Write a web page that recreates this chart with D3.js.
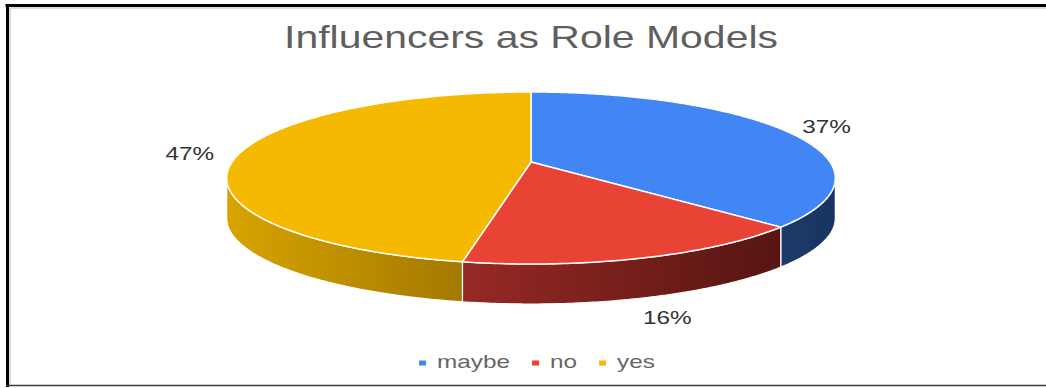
<!DOCTYPE html>
<html>
<head>
<meta charset="utf-8">
<script src="https://cdn.jsdelivr.net/npm/d3@7/dist/d3.min.js"></script>
<style>
  html, body { margin: 0; padding: 0; background: #fff; }
  svg { display: block; }
  text { font-family: Arial, "Liberation Sans", sans-serif; }
</style>
</head>
<body>
<svg id="chart" width="1046" height="388"></svg>
<script>
// Survey answers and their shares (percent)
const categories = ["maybe", "no", "yes"];
const shares = [37, 16, 47];
const chartTitle = "Influencers as Role Models";

const W = 1046, H = 388;
const svg = d3.select("#chart");

// Colours for the top faces and the side walls of each slice
const topColor = d3.scaleOrdinal().domain(categories).range(["#4285F4", "#E94335", "#F6B901"]);
const wallFrom = d3.scaleOrdinal().domain(categories).range(["#1D3B6B", "#962925", "#D8A400"]);
const wallTo   = d3.scaleOrdinal().domain(categories).range(["#18345F", "#571512", "#A37900"]);

// Tilted-disc projection: a point at angle t (clockwise from 12 o'clock) and
// radius fraction k on the pie top is mapped with a simple perspective divide.
const CX = 531, CY = 162, RX = 299, RY = 52.9, PERSP = 0.186, DEPTH = 40;
function project(t, k, dy) {
  const s = Math.sin(t), c = Math.cos(t);
  const den = 1 + PERSP * k * c;
  return [CX + RX * k * s / den, (CY - RY * k * c) / den + (dy || 0)];
}
function rim(t0, t1, dy) {
  const n = Math.max(4, Math.ceil(Math.abs(t1 - t0) / 0.01));
  return d3.range(n + 1).map(i => project(t0 + (t1 - t0) * i / n, 1, dy));
}

const pie = d3.pie().sort(null).value(d => d.value).startAngle(0).endAngle(2 * Math.PI);
const arcs = pie(categories.map((c, i) => ({ name: c, value: shares[i] })));

// Silhouette angles: the outer wall is visible between these two
const tRight = Math.acos(-PERSP);
const tLeft = 2 * Math.PI - tRight;

const line = d3.line();
const defs = svg.append("defs");

// Frame
svg.append("rect").attr("x", 0).attr("y", 0).attr("width", W).attr("height", H).attr("fill", "#fff");
svg.append("line").attr("x1", 10).attr("x2", W).attr("y1", 8).attr("y2", 8).attr("stroke", "#dcdcdc").attr("stroke-width", 2);
svg.append("line").attr("x1", 10).attr("x2", 10).attr("y1", 8).attr("y2", 385).attr("stroke", "#dcdcdc").attr("stroke-width", 2);
svg.append("line").attr("x1", 5.5).attr("x2", W).attr("y1", 5.5).attr("y2", 5.5).attr("stroke", "#000").attr("stroke-width", 3);
svg.append("line").attr("x1", 7.5).attr("x2", 7.5).attr("y1", 4).attr("y2", 387).attr("stroke", "#000").attr("stroke-width", 3);
svg.append("line").attr("x1", 6).attr("x2", W).attr("y1", 385.5).attr("y2", 385.5).attr("stroke", "#3a3a3a").attr("stroke-width", 1.5);

const STRETCH = 1.28;

// Title
svg.append("text")
  .attr("transform", `translate(${CX},48) scale(${STRETCH},1)`)
  .attr("text-anchor", "middle")
  .attr("font-size", 32)
  .attr("fill", "#5f5f5f")
  .text(chartTitle);

// Side walls
const walls = svg.append("g");
arcs.forEach((a, i) => {
  const t0 = Math.max(a.startAngle, tRight);
  const t1 = Math.min(a.endAngle, tLeft);
  if (t1 <= t0) return;
  const top = rim(t0, t1, 0);
  const bottom = rim(t1, t0, DEPTH);
  const xs = top.map(p => p[0]);
  const gid = "wall-" + i;
  const g = defs.append("linearGradient").attr("id", gid)
    .attr("gradientUnits", "userSpaceOnUse")
    .attr("x1", d3.max(xs)).attr("x2", d3.min(xs)).attr("y1", 0).attr("y2", 0);
  // walls go right-to-left in screen space as the angle increases
  const name = a.data.name;
  const leftToRight = name === "yes";
  g.append("stop").attr("offset", 0).attr("stop-color", leftToRight ? wallTo(name) : wallTo(name));
  g.append("stop").attr("offset", 1).attr("stop-color", wallFrom(name));
  walls.append("path")
    .attr("d", line(top.concat(bottom)) + "Z")
    .attr("fill", `url(#${gid})`)
    .attr("stroke", "#ffffff")
    .attr("stroke-width", 1.2)
    .attr("stroke-linejoin", "round");
});

// Top faces
const tops = svg.append("g");
arcs.forEach(a => {
  const pts = [project(0, 0, 0)].concat(rim(a.startAngle, a.endAngle, 0));
  tops.append("path")
    .attr("d", line(pts) + "Z")
    .attr("fill", topColor(a.data.name))
    .attr("stroke", "#ffffff")
    .attr("stroke-width", 1.5)
    .attr("stroke-linejoin", "round");
});

// Percentage labels outside each slice
const labels = svg.append("g");
arcs.forEach(a => {
  const mid = (a.startAngle + a.endAngle) / 2;
  const front = Math.max(0, -Math.cos(mid));
  const p = project(mid, 1.17, DEPTH * front);
  labels.append("text")
    .attr("transform", `translate(${p[0]},${p[1] + 7}) scale(${STRETCH},1)`)
    .attr("text-anchor", "middle")
    .attr("font-size", 19)
    .attr("fill", "#333333")
    .text(d3.format(".0f")(a.data.value) + "%");
});

// Legend
const legend = svg.append("g");
let lx = 0;
const items = [];
categories.forEach(c => {
  const item = legend.append("g");
  item.append("rect").attr("x", lx).attr("y", -7.5).attr("width", 7).attr("height", 5).attr("fill", topColor(c));
  const t = item.append("text")
    .attr("transform", `translate(${lx + 18},0) scale(${STRETCH},1)`)
    .attr("font-size", 19)
    .attr("fill", "#666666")
    .text(c);
  const w = t.node().getComputedTextLength() * STRETCH;
  lx += 18 + w + 22;
  items.push(item);
});
const legendWidth = lx - 22;
legend.attr("transform", `translate(${537 - legendWidth / 2},368)`);
</script>
</body>
</html>
